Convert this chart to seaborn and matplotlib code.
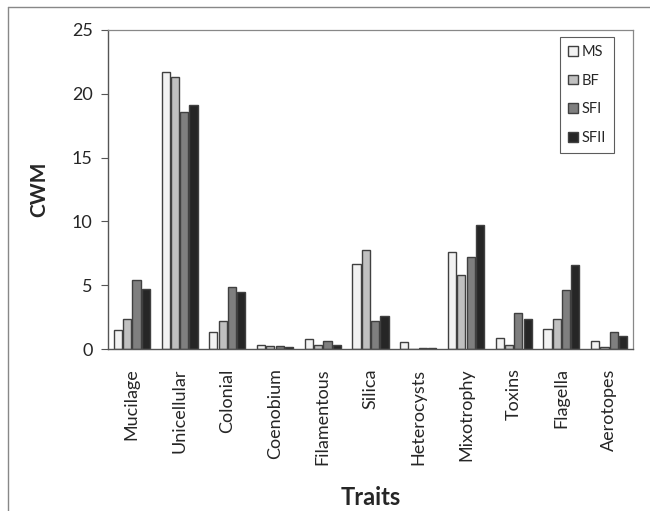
import matplotlib
matplotlib.use("Agg")
import matplotlib.pyplot as plt
import seaborn as sns
import pandas as pd
from matplotlib.lines import Line2D

traits = ["Mucilage", "Unicellular", "Colonial", "Coenobium", "Filamentous", "Silica",
          "Heterocysts", "Mixotrophy", "Toxins", "Flagella", "Aerotopes"]
groups = ["MS", "BF", "SFI", "SFII"]
ms   = [1.5, 21.7, 1.33, 0.31, 0.75, 6.68, 0.52, 7.57, 0.89, 1.54, 0.65]
bf   = [2.37, 21.35, 2.19, 0.23, 0.31, 7.73, 0.0, 5.8, 0.29, 2.32, 0.16]
sfi  = [5.43, 18.54, 4.83, 0.23, 0.6, 2.19, 0.1, 7.2, 2.79, 4.65, 1.33]
sfii = [4.67, 19.1, 4.47, 0.16, 0.34, 2.56, 0.1, 9.69, 2.37, 6.6, 0.99]
colors = ["#f2f2f2", "#c0c0c0", "#7f7f7f", "#262626"]
yticks = [0, 5, 10, 15, 20, 25]

rows = []
for g, vals in zip(groups, [ms, bf, sfi, sfii]):
    for t, v in zip(traits, vals):
        rows.append({"Trait": t, "Group": g, "CWM": v})
df = pd.DataFrame(rows)

sns.set_theme(style="white")
plt.rcParams["font.family"] = ["Lato", "DejaVu Sans"]

fig = plt.figure(figsize=(6.5, 5.11), dpi=100)
ax = fig.add_axes([108/650, 1-349/511, (633-108)/650, (349-30)/511])
sns.barplot(data=df, x="Trait", y="CWM", hue="Group", order=traits, hue_order=groups,
            palette=colors, width=0.78, gap=0.12, edgecolor="#404040", linewidth=1.0,
            saturation=1, errorbar=None, ax=ax)

ax.set_xlim(-0.5, 10.5)
ax.set_ylim(0, 25)
ax.set_yticks(yticks)
ax.tick_params(axis="y", which="both", left=True, direction="out", length=5, width=0.8,
               color="#555555", labelsize=13, pad=6)
ax.tick_params(axis="x", bottom=False, labelsize=13, pad=8)
for lbl in ax.get_xticklabels():
    lbl.set_rotation(90)
ax.set_xlabel("Traits", fontsize=17, fontweight="bold")
ax.xaxis.set_label_coords(0.5, -0.43)
ax.set_ylabel("CWM", fontsize=15, fontweight="bold", labelpad=16)
for s in ["left", "bottom"]:
    ax.spines[s].set_color("#555555")
    ax.spines[s].set_linewidth(1.0)
for s in ["top", "right"]:
    ax.spines[s].set_color("#888888")
    ax.spines[s].set_linewidth(0.9)

leg = ax.legend(title=None, loc="upper right", bbox_to_anchor=(614/650, 1-37/511),
                bbox_transform=fig.transFigure, frameon=True, fancybox=False,
                fontsize=10.5, handlelength=0.65, handleheight=0.65, handletextpad=0.25,
                labelspacing=1.0, borderpad=0.55, borderaxespad=0)
leg.get_frame().set_edgecolor("#333333")
leg.get_frame().set_linewidth(0.8)

# outer figure frame (top and left)
fig.add_artist(Line2D([8/650, 1], [1-7/511, 1-7/511], transform=fig.transFigure,
                      color="#888888", linewidth=1.0))
fig.add_artist(Line2D([8/650, 8/650], [0, 1-7/511], transform=fig.transFigure,
                      color="#888888", linewidth=1.0))

fig.savefig("out.png", dpi=100, facecolor="white")
